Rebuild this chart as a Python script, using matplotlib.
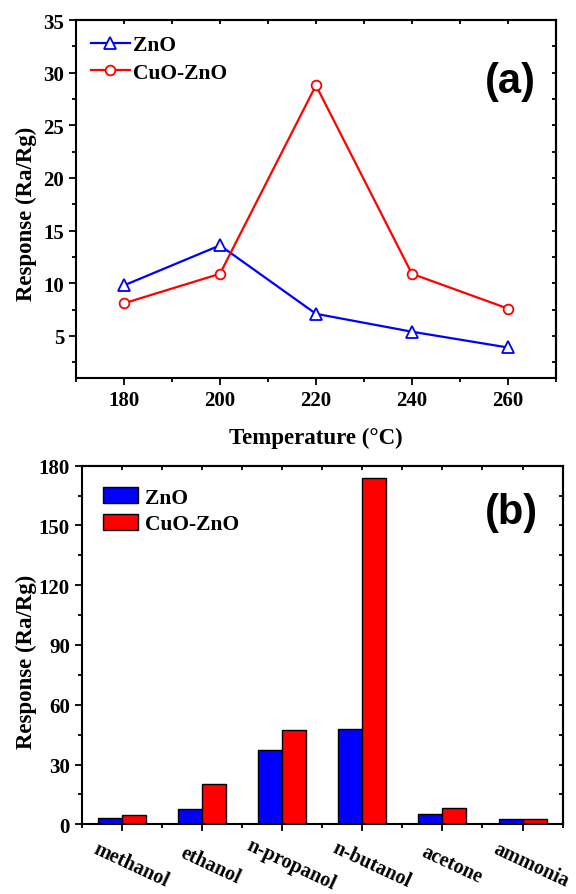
import matplotlib
matplotlib.use("Agg")
import matplotlib.pyplot as plt
import matplotlib.transforms as mtrans
from matplotlib.ticker import MultipleLocator
import numpy as np

# --- data ---
temps = [180, 200, 220, 240, 260]
resp_zno_t = [9.8, 13.6, 7.1, 5.4, 3.9]
resp_cuozno_t = [8.1, 10.9, 28.8, 10.9, 7.6]

gases = ["methanol", "ethanol", "n-propanol", "n-butanol", "acetone", "ammonia"]
resp_zno_g = [3.0, 7.8, 37.1, 47.8, 5.3, 2.5]
resp_cuozno_g = [4.8, 20.4, 47.5, 174.0, 8.2, 2.5]

SERIF = "Liberation Serif"
SANS = "Liberation Sans"
plt.rcParams["font.family"] = [SERIF, "DejaVu Serif"]
plt.rcParams["font.weight"] = "bold"
plt.rcParams["axes.linewidth"] = 1.5

TICK_FS = 15
LABEL_FS = 16.5
LEG_FS = 15.5


def style_axes(ax, xmajor, xminor, ymajor, yminor):
    ax.xaxis.set_major_locator(MultipleLocator(xmajor))
    ax.xaxis.set_minor_locator(MultipleLocator(xminor))
    ax.yaxis.set_major_locator(MultipleLocator(ymajor))
    ax.yaxis.set_minor_locator(MultipleLocator(yminor))
    ax.tick_params(which="major", direction="out", length=5, width=1.3,
                   labelsize=TICK_FS)
    ax.tick_params(which="minor", direction="out", length=3, width=1.3)
    # mirrored ticks pointing inwards on top/right
    top = ax.secondary_xaxis("top")
    right = ax.secondary_yaxis("right")
    for sec, loc_major, loc_minor in ((top, xmajor, xminor), (right, ymajor, yminor)):
        sec_axis = sec.xaxis if sec is top else sec.yaxis
        sec_axis.set_major_locator(MultipleLocator(loc_major))
        sec_axis.set_minor_locator(MultipleLocator(loc_minor))
        sec.tick_params(which="both", direction="in", length=3, width=1.3,
                        labeltop=False, labelright=False)
        for sp in sec.spines.values():
            sp.set_linewidth(1.5)
    for lab in ax.get_xticklabels() + ax.get_yticklabels():
        lab.set_fontweight("bold")


fig = plt.figure(figsize=(5.76, 8.95), dpi=100)

# ---------------- (a) response vs temperature ----------------
ax1 = fig.add_axes([0.132, 0.5765, 0.833, 0.400])
ax1.plot(temps, resp_zno_t, color="blue", lw=1.6, marker="^", ms=9,
         mfc="white", mec="blue", mew=1.3, label="ZnO")
ax1.plot(temps, resp_cuozno_t, color="red", lw=1.6, marker="o", ms=7,
         mfc="white", mec="red", mew=1.3, label="CuO-ZnO")
ax1.set_xlim(170, 270)
ax1.set_ylim(1, 35)
style_axes(ax1, 20, 10, 5, 2.5)
ax1.set_xlabel("Temperature (\u00b0C)", fontsize=LABEL_FS, fontweight="bold", labelpad=12)
ax1.set_ylabel("Response (Ra/Rg)", fontsize=LABEL_FS, fontweight="bold")
ax1.yaxis.set_label_coords(-0.082, 0.46)
ax1.text(0.905, 0.83, "(a)", transform=ax1.transAxes, family=SANS,
         fontsize=30, fontweight="bold", ha="center", va="center")
ax1.legend(loc="upper left", frameon=False, handlelength=1.8,
           borderaxespad=0.3, labelspacing=0.35, handletextpad=0.15,
           prop={"family": SERIF, "weight": "bold", "size": LEG_FS})

# ---------------- (b) response to gases ----------------
ax2 = fig.add_axes([0.1418, 0.0779, 0.835, 0.4007])
x = np.arange(1, len(gases) + 1)
w = 0.3
ax2.bar(x - w / 2, resp_zno_g, width=w, color="blue", edgecolor="black",
        lw=1.0, label="ZnO")
ax2.bar(x + w / 2, resp_cuozno_g, width=w, color="red", edgecolor="black",
        lw=1.0, label="CuO-ZnO")
ax2.set_xlim(0.5, 6.5)
ax2.set_ylim(0, 180)
style_axes(ax2, 1, 0.5, 30, 15)
ax2.set_xticks(x)
ax2.set_xticklabels(gases, rotation=-25, rotation_mode="anchor",
                    ha="center", va="center", fontsize=14.5, fontweight="bold")
ax2.tick_params(axis="x", which="major", pad=24)
shift = mtrans.ScaledTranslation(0.09, 0, fig.dpi_scale_trans)
for lab in ax2.get_xticklabels():
    lab.set_transform(lab.get_transform() + shift)
ax2.set_ylabel("Response (Ra/Rg)", fontsize=LABEL_FS, fontweight="bold")
ax2.yaxis.set_label_coords(-0.093, 0.455)
ax2.text(0.894, 0.871, "(b)", transform=ax2.transAxes, family=SANS,
         fontsize=30, fontweight="bold", ha="center", va="center")
ax2.legend(loc="upper left", frameon=False, handlelength=1.6, handleheight=0.75,
           borderaxespad=0.6, labelspacing=0.3, handletextpad=0.35,
           prop={"family": SERIF, "weight": "bold", "size": LEG_FS})

fig.savefig("out.png", dpi=100)
